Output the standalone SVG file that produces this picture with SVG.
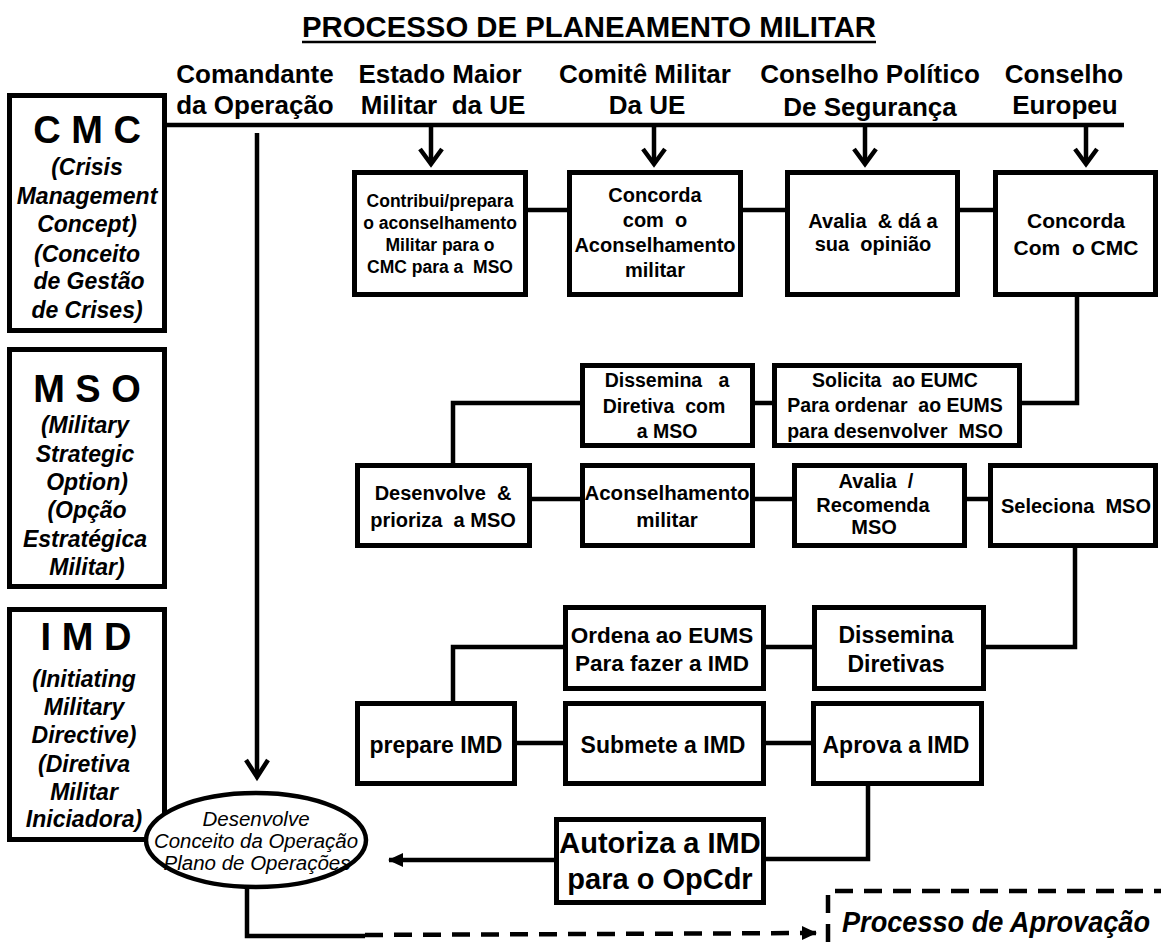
<svg xmlns="http://www.w3.org/2000/svg" width="1161" height="942" viewBox="0 0 1161 942">
<style>
text{font-family:"Liberation Sans",Arial,sans-serif;fill:#000;white-space:pre}
.t{font-weight:bold;text-anchor:middle}
.h{font-size:26px;font-weight:bold;text-anchor:middle}
.big{font-size:38px;font-weight:bold;text-anchor:middle}
.it{font-size:23px;font-weight:bold;font-style:italic;text-anchor:middle}
.box{fill:#fff;stroke:#000;stroke-width:5}
.c{fill:none;stroke:#000;stroke-width:4.5}
.ch{fill:none;stroke:#000;stroke-width:4.5;stroke-linejoin:miter}
.d{fill:none;stroke:#000;stroke-width:4.5;stroke-dasharray:18 11}
</style>
<defs>
<marker id="tri" markerUnits="userSpaceOnUse" markerWidth="16" markerHeight="16" refX="14" refY="8" orient="auto">
<path d="M0,1 L15,8 L0,15 Z" fill="#000"/>
</marker>
</defs>
<rect width="1161" height="942" fill="#fff"/>

<g id="title">
<text x="589" y="37" font-size="30" font-weight="bold" text-anchor="middle" textLength="574" lengthAdjust="spacingAndGlyphs">PROCESSO DE PLANEAMENTO MILITAR</text>
<line x1="302" y1="42" x2="876" y2="42" stroke="#000" stroke-width="2.5"/>
</g>

<g id="headers">
<text class="h" x="255" y="83">Comandante</text>
<text class="h" x="255" y="114">da Operação</text>
<text class="h" x="440" y="83">Estado Maior</text>
<text class="h" x="443" y="114">Militar  da UE</text>
<text class="h" x="645" y="83">Comitê Militar</text>
<text class="h" x="647" y="114">Da UE</text>
<text class="h" x="870" y="83">Conselho Político</text>
<text class="h" x="870" y="116">De Segurança</text>
<text class="h" x="1064" y="83">Conselho</text>
<text class="h" x="1065" y="114">Europeu</text>
</g>

<g id="connectors">
<line class="c" x1="160" y1="125" x2="1124" y2="125"/>
<line class="c" x1="431" y1="125" x2="431" y2="163"/>
<polyline class="ch" points="420,149 431,164 442,149"/>
<line class="c" x1="654" y1="125" x2="654" y2="163"/>
<polyline class="ch" points="643,149 654,164 665,149"/>
<line class="c" x1="865" y1="125" x2="865" y2="163"/>
<polyline class="ch" points="854,149 865,164 876,149"/>
<line class="c" x1="1086" y1="125" x2="1086" y2="163"/>
<polyline class="ch" points="1075,149 1086,164 1097,149"/>
<line class="c" x1="257" y1="133" x2="257" y2="776"/>
<polyline class="ch" points="246,760 257,777 268,760"/>
<line class="c" x1="528" y1="210" x2="567" y2="210"/>
<line class="c" x1="743" y1="210" x2="785" y2="210"/>
<line class="c" x1="960" y1="210" x2="993" y2="210"/>
<polyline class="c" points="1077,297 1077,403 1022,403"/>
<line class="c" x1="755" y1="403" x2="772" y2="403"/>
<polyline class="c" points="580,403 453,403 453,463"/>
<line class="c" x1="532" y1="499" x2="580" y2="499"/>
<line class="c" x1="755" y1="499" x2="792" y2="499"/>
<line class="c" x1="967" y1="499" x2="988" y2="499"/>
<polyline class="c" points="1075,548 1075,647 986,647"/>
<line class="c" x1="766" y1="647" x2="812" y2="647"/>
<polyline class="c" points="563,647 453,647 453,701"/>
<line class="c" x1="517" y1="743" x2="563" y2="743"/>
<line class="c" x1="766" y1="743" x2="811" y2="743"/>
<polyline class="c" points="868,786 868,859 766,859"/>
<line class="c" x1="554" y1="860" x2="389" y2="860" marker-end="url(#tri)"/>
<polyline class="c" points="247,886 247,936 365,936"/>
<line class="d" x1="365" y1="935" x2="816" y2="933" marker-end="url(#tri)"/>
</g>

<g id="cmc">
<rect class="box" x="9.5" y="95.5" width="155" height="235"/>
<text class="big" x="87" y="143">C M C</text>
<text class="it" x="87" y="175">(Crisis</text>
<text class="it" x="87" y="204">Management</text>
<text class="it" x="87" y="232">Concept)</text>
<text class="it" x="87" y="262">(Conceito</text>
<text class="it" x="89" y="289">de Gestão</text>
<text class="it" x="87" y="318">de Crises)</text>
</g>

<g id="mso">
<rect class="box" x="9.5" y="349.5" width="155" height="237"/>
<text class="big" x="87" y="402">M S O</text>
<text class="it" x="85" y="433">(Military</text>
<text class="it" x="85" y="462">Strategic</text>
<text class="it" x="87" y="490">Option)</text>
<text class="it" x="87" y="518">(Opção</text>
<text class="it" x="85" y="547">Estratégica</text>
<text class="it" x="87" y="575">Militar)</text>
</g>

<g id="imd">
<rect class="box" x="9.5" y="609.5" width="155" height="230"/>
<text class="big" x="86" y="650">I M D</text>
<text class="it" x="84" y="687">(Initiating</text>
<text class="it" x="84" y="715">Military</text>
<text class="it" x="84" y="743">Directive)</text>
<text class="it" x="84" y="772">(Diretiva</text>
<text class="it" x="84" y="800">Militar</text>
<text class="it" x="84" y="827">Iniciadora)</text>
</g>

<g id="ellipse">
<ellipse cx="256" cy="840" rx="110" ry="47" fill="#fff" stroke="#000" stroke-width="4.5"/>
<text x="256" y="826" font-size="20.5" font-style="italic" text-anchor="middle">Desenvolve</text>
<text x="256" y="848" font-size="20.5" font-style="italic" text-anchor="middle" textLength="204" lengthAdjust="spacingAndGlyphs">Conceito da Operação</text>
<text x="257" y="870" font-size="20.5" font-style="italic" text-anchor="middle">Plano de Operações</text>
</g>

<g id="b1">
<rect class="box" x="354.5" y="172.5" width="171" height="122"/>
<text class="t" x="440" y="207" font-size="17.5">Contribui/prepara</text>
<text class="t" x="440" y="229" font-size="17.5">o aconselhamento</text>
<text class="t" x="440" y="251" font-size="17.5">Militar para o</text>
<text class="t" x="440" y="273" font-size="17.5">CMC para a  MSO</text>
</g>
<g id="b2">
<rect class="box" x="569.5" y="172.5" width="171" height="122"/>
<text class="t" x="655" y="202" font-size="20">Concorda</text>
<text class="t" x="655" y="227" font-size="20">com  o</text>
<text class="t" x="655" y="252" font-size="20">Aconselhamento</text>
<text class="t" x="655" y="277" font-size="20">militar</text>
</g>
<g id="b3">
<rect class="box" x="787.5" y="172.5" width="170" height="122"/>
<text class="t" x="873" y="228" font-size="20">Avalia  &amp; dá a</text>
<text class="t" x="873" y="251" font-size="20">sua  opinião</text>
</g>
<g id="b4">
<rect class="box" x="995.5" y="172.5" width="160" height="122"/>
<text class="t" x="1076" y="228" font-size="21">Concorda</text>
<text class="t" x="1076" y="255" font-size="21">Com  o CMC</text>
</g>

<g id="b5">
<rect class="box" x="582.5" y="365.5" width="170" height="80"/>
<text class="t" x="667" y="387" font-size="19.5">Dissemina   a</text>
<text class="t" x="664" y="413" font-size="19.5">Diretiva  com</text>
<text class="t" x="667" y="438" font-size="19.5">a MSO</text>
</g>
<g id="b6">
<rect class="box" x="774.5" y="365.5" width="245" height="80"/>
<text class="t" x="895" y="387" font-size="19.5">Solicita  ao EUMC</text>
<text class="t" x="895" y="412" font-size="19.5">Para ordenar  ao EUMS</text>
<text class="t" x="895" y="438" font-size="19.5">para desenvolver  MSO</text>
</g>

<g id="b7">
<rect class="box" x="357.5" y="465.5" width="172" height="80"/>
<text class="t" x="443" y="500" font-size="20">Desenvolve  &amp;</text>
<text class="t" x="443" y="527" font-size="20">prioriza  a MSO</text>
</g>
<g id="b8">
<rect class="box" x="582.5" y="465.5" width="170" height="80"/>
<text class="t" x="667" y="500" font-size="20.5">Aconselhamento</text>
<text class="t" x="667" y="527" font-size="20.5">militar</text>
</g>
<g id="b9">
<rect class="box" x="794.5" y="465.5" width="170" height="80"/>
<text class="t" x="876" y="488" font-size="20">Avalia  /</text>
<text class="t" x="873" y="512" font-size="20">Recomenda</text>
<text class="t" x="874" y="534" font-size="20">MSO</text>
</g>
<g id="b10">
<rect class="box" x="990.5" y="465.5" width="165" height="80"/>
<text class="t" x="1076" y="513" font-size="20">Seleciona  MSO</text>
</g>

<g id="b11">
<rect class="box" x="565.5" y="607.5" width="198" height="81"/>
<text class="t" x="662" y="643" font-size="22.5">Ordena ao EUMS</text>
<text class="t" x="662" y="671" font-size="22.5">Para fazer a IMD</text>
</g>
<g id="b12">
<rect class="box" x="814.5" y="607.5" width="169" height="81"/>
<text class="t" x="896" y="643" font-size="23">Dissemina</text>
<text class="t" x="896" y="672" font-size="23">Diretivas</text>
</g>

<g id="b13">
<rect class="box" x="357.5" y="703.5" width="157" height="80"/>
<text class="t" x="436" y="753" font-size="23">prepare IMD</text>
</g>
<g id="b14">
<rect class="box" x="565.5" y="703.5" width="198" height="80"/>
<text class="t" x="663" y="753" font-size="23">Submete a IMD</text>
</g>
<g id="b15">
<rect class="box" x="813.5" y="703.5" width="168" height="80"/>
<text class="t" x="896" y="753" font-size="23">Aprova a IMD</text>
</g>

<g id="b16">
<rect class="box" x="556.5" y="819.5" width="207" height="83"/>
<text class="t" x="660" y="853" font-size="29">Autoriza a IMD</text>
<text class="t" x="660" y="889" font-size="29">para o OpCdr</text>
</g>

<g id="aprovacao">
<polyline class="d" points="828,942 828,891 1161,891"/>
<text x="842" y="932" font-family="'Open Sans','Noto Sans',sans-serif" font-size="30" font-style="italic" font-weight="600" textLength="308" lengthAdjust="spacingAndGlyphs">Processo de Aprovação</text>
</g>
</svg>
